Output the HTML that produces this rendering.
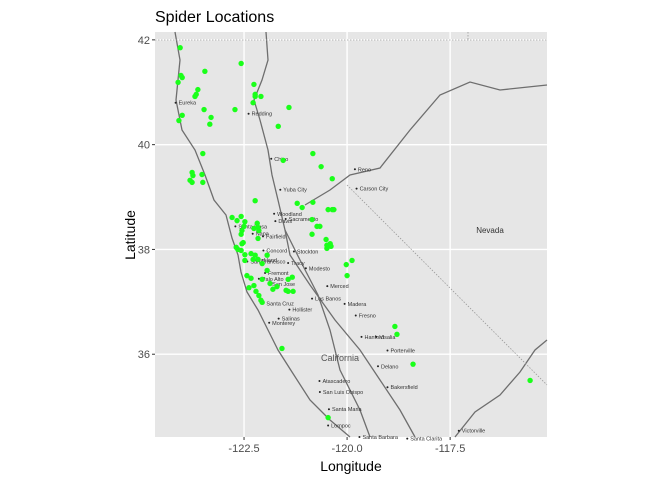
<!DOCTYPE html>
<html><head><meta charset="utf-8"><style>
body{margin:0;background:#fff;font-family:"Liberation Sans",sans-serif}
</style></head><body>
<svg width="672" height="480" id="chart">
<text x="155" y="22" font-size="16" fill="#000">Spider Locations</text>
<g id="panel">
<rect x="155" y="32" width="392" height="405" fill="#e6e6e6"/>
</g>
<text x="351" y="471" font-size="14" text-anchor="middle">Longitude</text>
<text transform="translate(135,235) rotate(-90)" font-size="14" text-anchor="middle">Latitude</text>
</svg>
<script>
const xTicks=[-122.5,-120.0,-117.5];
const yTicks=[36,38,40,42];
const lons=[-124.05,-122.57,-123.45,-124.03,-124.00,-124.10,-123.62,-123.66,-123.69,-122.26,-122.23,-122.23,-122.09,-122.28,-123.47,-122.72,-121.41,-124.00,-124.08,-123.30,-123.33,-121.67,-123.50,-120.83,-121.55,-120.63,-123.76,-123.74,-123.52,-123.81,-123.76,-123.50,-120.36,-122.23,-121.21,-120.83,-121.09,-120.46,-120.36,-120.32,-122.79,-122.67,-122.57,-122.48,-122.50,-122.55,-122.57,-122.18,-122.16,-122.14,-122.26,-120.85,-120.73,-120.66,-120.85,-122.16,-122.55,-122.52,-120.51,-120.41,-120.49,-120.39,-120.49,-122.69,-122.65,-122.57,-122.48,-122.33,-122.23,-122.16,-122.06,-121.94,-122.48,-122.28,-120.02,-119.88,-120.00,-121.94,-122.43,-122.33,-122.06,-121.43,-121.33,-121.87,-122.26,-122.38,-121.70,-121.80,-122.21,-122.14,-122.09,-122.06,-121.48,-121.43,-121.31,-121.58,-118.84,-118.79,-118.40,-115.56,-120.46];
const lats=[41.85,41.55,41.40,41.32,41.28,41.19,41.05,40.96,40.92,41.15,40.96,40.92,40.92,40.80,40.67,40.67,40.71,40.56,40.46,40.52,40.39,40.35,39.83,39.83,39.70,39.58,39.47,39.41,39.43,39.32,39.28,39.28,39.35,38.93,38.88,38.90,38.80,38.76,38.76,38.76,38.61,38.55,38.63,38.53,38.44,38.36,38.29,38.50,38.42,38.36,38.40,38.57,38.44,38.44,38.29,38.21,38.11,38.13,38.19,38.11,38.08,38.06,38.02,38.04,38.00,37.98,37.90,37.92,37.89,37.81,37.73,37.89,37.79,37.81,37.71,37.79,37.50,37.60,37.50,37.45,37.43,37.43,37.47,37.35,37.31,37.27,37.29,37.24,37.20,37.12,37.03,36.99,37.22,37.20,37.20,36.11,36.53,36.38,35.81,35.50,34.79];
const cityNames=["Eureka","Redding","Chico","Yuba City","Woodland","Sacramento","Reno","Carson City","Santa Rosa","Napa","Davis","Fairfield","Concord","Stockton","San Francisco","Oakland","Tracy","Modesto","Fremont","San Jose","Palo Alto","Merced","Santa Cruz","Los Banos","Madera","Hollister","Fresno","Salinas","Monterey","Hanford","Visalia","Porterville","Delano","Bakersfield","Atascadero","San Luis Obispo","Santa Maria","Lompoc","Santa Barbara","Santa Clarita","Victorville"];
const cityLon=[-124.16,-122.39,-121.84,-121.62,-121.77,-121.49,-119.81,-119.77,-122.71,-122.29,-121.74,-122.04,-122.03,-121.29,-122.42,-122.27,-121.43,-121.0,-121.99,-121.89,-122.14,-120.48,-122.03,-120.85,-120.06,-121.40,-119.79,-121.66,-121.89,-119.65,-119.29,-119.02,-119.25,-119.02,-120.67,-120.66,-120.44,-120.46,-119.70,-118.54,-117.29];
const cityLat=[40.80,40.59,39.73,39.14,38.68,38.58,39.53,39.16,38.44,38.30,38.54,38.25,37.98,37.96,37.77,37.80,37.74,37.64,37.55,37.34,37.44,37.30,36.97,37.06,36.96,36.85,36.74,36.68,36.60,36.33,36.33,36.07,35.77,35.37,35.49,35.28,34.95,34.64,34.42,34.39,34.54];
const L=155,R=547,T=32,B=437;
const lon0=-124.66,lon1=-115.15,lat0=34.42,lat1=42.15;
function xs(v){return L+(v-lon0)/(lon1-lon0)*(R-L);}
function ys(v){return B-(v-lat0)/(lat1-lat0)*(B-T);}
const NS="http://www.w3.org/2000/svg";
const svg=document.getElementById('chart');const panel=document.getElementById('panel');
function mk(t,a,p){const e=document.createElementNS(NS,t);for(const k in a)e.setAttribute(k,a[k]);(p||svg).appendChild(e);return e;}
// gridlines
xTicks.forEach(v=>{const g=mk('line',{x1:xs(v),x2:xs(v),y1:T,y2:B,stroke:'#fff','stroke-width':1.4},panel);


const tk=mk('line',{x1:xs(v),x2:xs(v),y1:B,y2:B+3,stroke:'#333'});


const t=mk('text',{x:xs(v),y:B+15,'font-size':11,fill:'#4d4d4d','text-anchor':'middle'});t.textContent=v.toFixed(1);

});
yTicks.forEach(v=>{const g=mk('line',{x1:L,x2:R,y1:ys(v),y2:ys(v),stroke:'#fff','stroke-width':1.4},panel);


const tk=mk('line',{x1:L-3,x2:L,y1:ys(v),y2:ys(v),stroke:'#333'});


const t=mk('text',{x:L-5,y:ys(v)+4,'font-size':11,fill:'#4d4d4d','text-anchor':'end'});t.textContent=v;

});
// roads / borders (background map)
const roads=["M175,32 L180,60 L176,100 L182,130 L195,150 L205,175 L214,200 L226,215 L232,238 L238,255 L241,272 L247,292 L258,310 L268,330 L278,350 L292,372 L310,400 L330,420 L350,437",
"M266,32 L268,60 L262,80 L254,100 L260,120 L268,150 L272,175 L278,200 L285,230 L290,255 L310,285 L335,320 L360,350 L380,380 L400,410 L415,437",
"M285,230 L300,260 L318,295 L330,330 L340,370 L360,410 L370,437",
"M305,205 L330,190 L350,175 L380,168 L410,130 L440,95 L470,82 L500,90 L547,85",
"M547,340 L535,350 L520,372 L500,395 L475,412 L455,437"];
roads.forEach(d=>{const p=mk('path',{d:d,fill:'none',stroke:'#6e6e6e','stroke-width':1.3},panel);

});
const st=mk('path',{d:"M347,185 L547,385 M155,40 L547,40 M468,32 L468,40",fill:'none',stroke:'#9a9a9a','stroke-width':0.8,'stroke-dasharray':'1.5,1.5'},panel);


const nv=mk('text',{x:490,y:233,'font-size':8,fill:'#333','text-anchor':'middle'},panel);nv.textContent='Nevada';


const ca=mk('text',{x:340,y:361,'font-size':9,fill:'#555','text-anchor':'middle'},panel);ca.textContent='California';


cityNames.forEach((n,i)=>{const cx=xs(cityLon[i]),cy=ys(cityLat[i]);
const d=mk('circle',{cx:cx,cy:cy,r:1,fill:'#222'},panel);


const t=mk('text',{x:cx+3,y:cy+2,'font-size':5.5,fill:'#333'},panel);t.textContent=n;

});
lons.forEach((v,i)=>{const c=mk('circle',{cx:xs(v),cy:ys(lats[i]),r:2.7,fill:'#1aff1a'},panel);

});
</script>
</body></html>
